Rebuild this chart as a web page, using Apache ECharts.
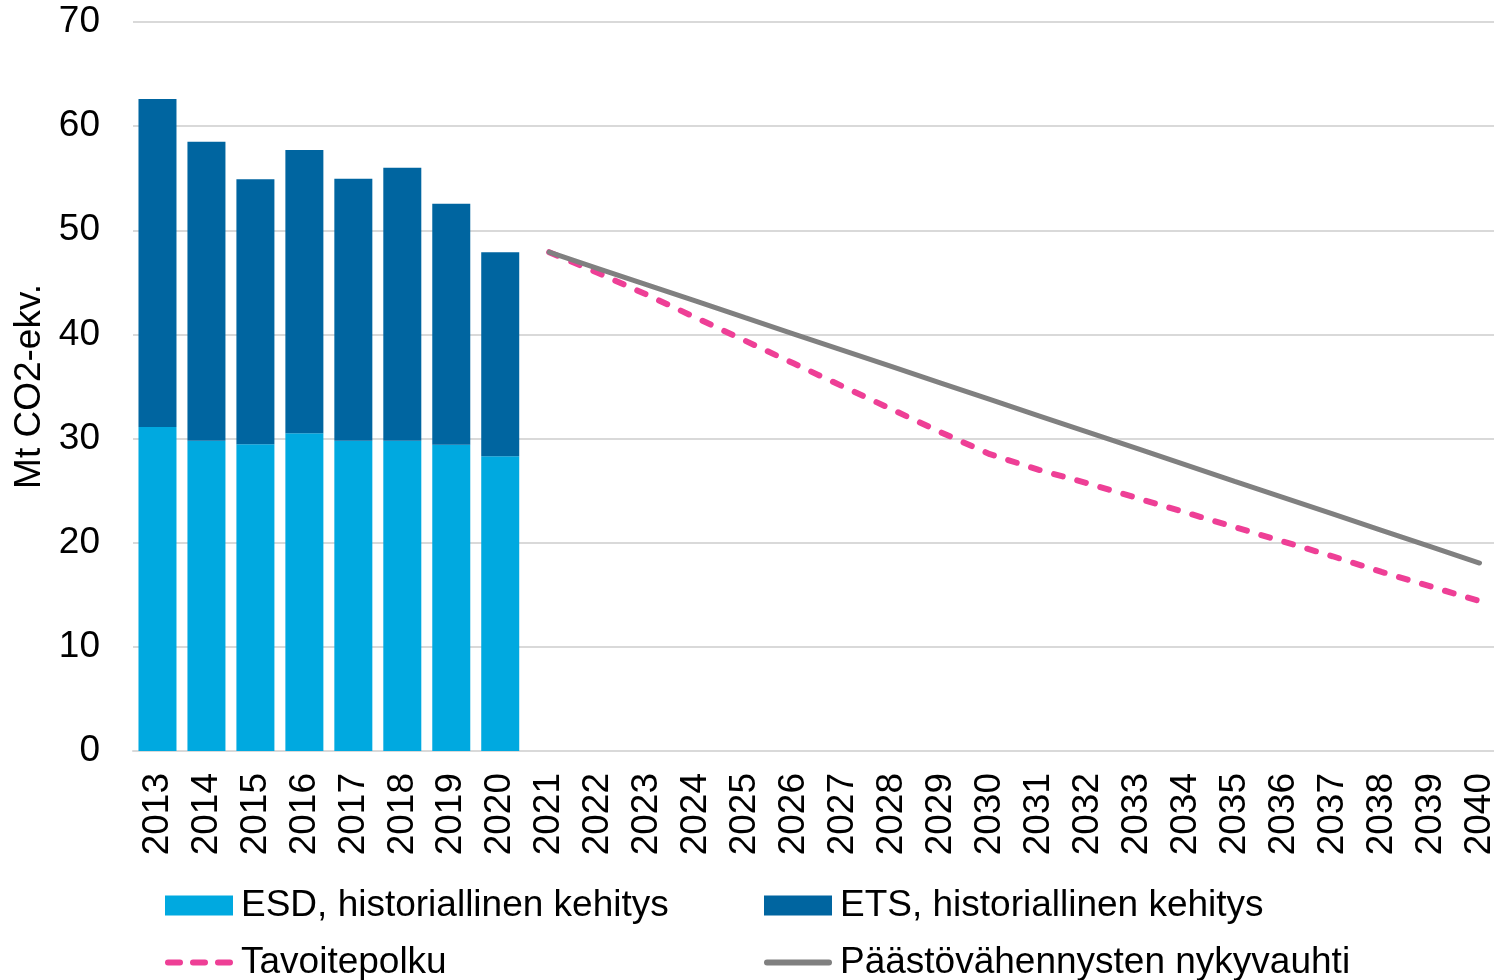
<!DOCTYPE html>
<html><head><meta charset="utf-8">
<script src="https://cdn.jsdelivr.net/npm/echarts@6/dist/echarts.min.js"></script>
<style>html,body{margin:0;padding:0;background:#fff}#c{width:1494px;height:980px}</style>
</head><body><div id="c"></div>
<script>
var years = ['2013','2014','2015','2016','2017','2018','2019','2020','2021','2022','2023','2024','2025','2026','2027','2028','2029','2030','2031','2032','2033','2034','2035','2036','2037','2038','2039','2040'];
var esd = [31.1,29.8,29.45,30.5,29.8,29.8,29.4,28.3];
var ets = [31.5,28.7,25.45,27.2,25.15,26.2,23.15,19.6];
var target = [47.9,45.9,43.8,41.6,39.4,37.2,35.0,32.8,30.6,28.5,27.0,25.7,24.3,22.9,21.5,20.1,18.7,17.2,15.8,14.4];
var current = [47.9,46.33,44.76,43.19,41.61,40.04,38.47,36.9,35.33,33.76,32.19,30.62,29.05,27.48,25.9,24.33,22.76,21.19,19.62,18.05];
var yTicks = {min:0, max:70, interval:10};
var names = ['ESD, historiallinen kehitys','ETS, historiallinen kehitys','Tavoitepolku','Päästövähennysten nykyvauhti'];

function pad(arr, before, total){
  var out = [];
  for (var i=0;i<total;i++){
    var j = i - before;
    out.push(j>=0 && j<arr.length ? arr[j] : '-');
  }
  return out;
}
var N = years.length;
var font = '"Liberation Sans", Arial, sans-serif';
var FS = 37;
var chart = echarts.init(document.getElementById('c'));
function leg(name, left, top, icon, h){
  var item = {name:name};
  if (icon) item.icon = icon;
  return {data:[item], left:left, top:top, padding:0, itemWidth:68, itemHeight:h, itemGap:0,
    textStyle:{fontFamily:font, fontSize:FS, color:'#000', padding:[0,0,0,3]}};
}
var dashIcon = 'path://M3,0 h12 a3,3 0 0 1 0,6 h-12 a3,3 0 0 1 0,-6 z M28,0 h12 a3,3 0 0 1 0,6 h-12 a3,3 0 0 1 0,-6 z M53,0 h12 a3,3 0 0 1 0,6 h-12 a3,3 0 0 1 0,-6 z';
var lineIcon = 'path://M3,0 h62 a3,3 0 0 1 0,6 h-62 a3,3 0 0 1 0,-6 z';
chart.setOption({
  animation:false,
  textStyle:{fontFamily:font},
  grid:{left:133, width:1371, top:22, bottom:229, containLabel:false, outerBoundsMode:'none'},
  legend:[leg(names[0],165,887,'rect',20), leg(names[1],764,887,'rect',20),
          leg(names[2],165,944,dashIcon,6), leg(names[3],764,944,lineIcon,6)],
  xAxis:{type:'category', data:years, boundaryGap:true,
    axisLine:{lineStyle:{color:'#d9d9d9', width:2}},
    axisTick:{show:false},
    axisLabel:{rotate:90, interval:0, margin:22, fontSize:FS, color:'#000', fontFamily:font}},
  yAxis:{type:'value', min:yTicks.min, max:yTicks.max, interval:yTicks.interval,
    name:'Mt CO2-ekv.', nameLocation:'middle', nameGap:83,
    nameTextStyle:{fontSize:FS, color:'#000', fontFamily:font},
    axisLine:{show:false}, axisTick:{show:false},
    splitLine:{lineStyle:{color:'#d9d9d9', width:2}},
    axisLabel:{fontSize:FS, color:'#000', margin:33, fontFamily:font}},
  series:[
    {name:names[0], type:'bar', stack:'h', barWidth:38, data:pad(esd,0,N), itemStyle:{color:'#00A9E0'}},
    {name:names[1], type:'bar', stack:'h', barWidth:38, data:pad(ets,0,N), itemStyle:{color:'#0065A0'}},
    {name:names[2], type:'line', data:pad(target,8,N), symbol:'none', z:3,
      lineStyle:{color:'#EE3F96', width:6, type:[9,15], cap:'round'}, itemStyle:{color:'#EE3F96'}},
    {name:names[3], type:'line', data:pad(current,8,N), symbol:'none', z:4,
      lineStyle:{color:'#808080', width:5, cap:'round'}, itemStyle:{color:'#808080'}}
  ]
});
</script></body></html>
